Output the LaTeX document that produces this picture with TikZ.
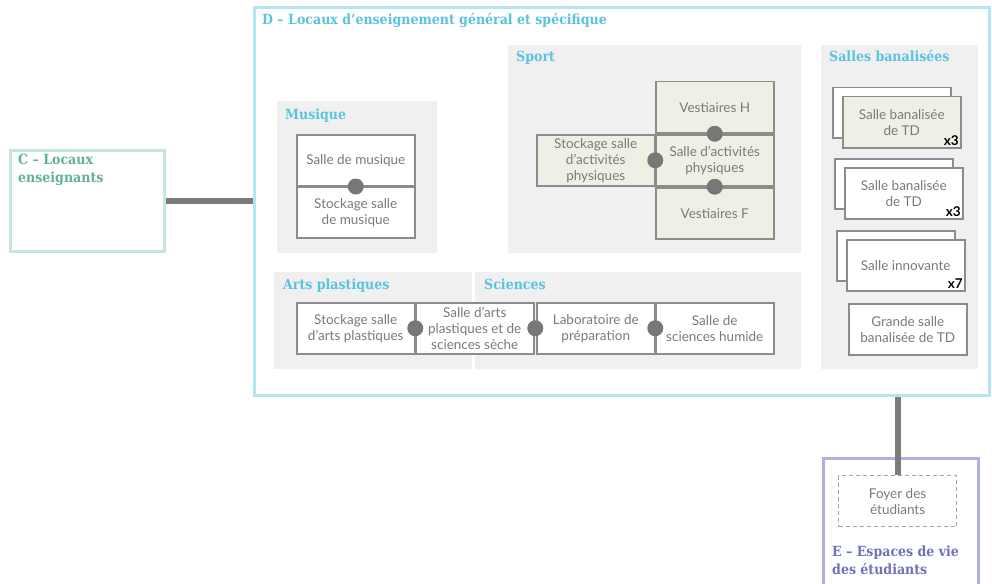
\documentclass[tikz,border=0pt]{standalone}
\usepackage{fontspec}
\setmainfont{Lato}
\newfontfamily\headfont{DejaVu Serif Condensed}
\usetikzlibrary{calc}

\definecolor{panelgray}{HTML}{F0F0F0}
\definecolor{sportfill}{HTML}{EEF0E6}
\definecolor{roomline}{HTML}{8C8C8C}
\definecolor{roomtext}{HTML}{7A7A7A}
\definecolor{linkgray}{HTML}{7B7B7B}
\definecolor{dotgray}{HTML}{777777}
\definecolor{dframe}{HTML}{B5E4F3}
\definecolor{dtitle}{HTML}{5BC2E0}
\definecolor{cframe}{HTML}{C5E8D6}
\definecolor{ctitle}{HTML}{62B09C}
\definecolor{eframe}{HTML}{AEB1DC}
\definecolor{etitle}{HTML}{6E72B8}

\tikzset{
  frame/.style={draw, line width=3pt, fill=white, inner sep=0pt},
  panel/.style={fill=panelgray, inner sep=0pt, anchor=north west},
  room/.style={draw=roomline, line width=1.5pt, fill=white, text=roomtext,
    align=center, font=\fontsize{13.5}{16}\selectfont, inner sep=1pt,
    minimum width=118pt, minimum height=51pt, anchor=north west},
  sportroom/.style={room, fill=sportfill},
  headtype/.style={font=\headfont\bfseries\fontsize{14}{18}\selectfont, inner sep=0pt},
  heading/.style={headtype, text=dtitle, anchor=base west},
  joint/.style={fill=dotgray},
  link/.style={draw=linkgray, line width=6pt},
  count/.style={font=\bfseries\fontsize{13.5}{13.5}\selectfont, text=black,
    anchor=south east, inner sep=2.5pt},
}

\begin{document}
\begin{tikzpicture}[x=1pt,y=-1pt]
\clip (0,0) rectangle (992,583);
\fill[white] (0,0) rectangle (992,583);

% three building zones
\node[frame, draw=cframe, minimum width=154pt, minimum height=101pt] (cbox) at (87.5,201) {};
\node[frame, draw=dframe, minimum width=735pt, minimum height=387.5pt] (dbox) at (622,201.25) {};
\node[frame, draw=eframe, minimum width=155pt, minimum height=140pt] (ebox) at (901,528.5) {};

\node[headtype, text=ctitle, anchor=north west, align=left] (ctitle) at (18,154) {C – Locaux\\enseignants};
\node[heading] (dtitle) at (262,25) {D – Locaux d’enseignement général et spécifique};
\node[headtype, text=etitle, anchor=north west, align=left] (etitle) at (832,546) {E – Espaces de vie\\des étudiants};

% grey sub-zones inside D
\node[panel, minimum width=160pt, minimum height=152pt] (pmus) at (277,101) {};
\node[panel, minimum width=293pt, minimum height=208pt] (psport) at (508,45) {};
\node[panel, minimum width=157pt, minimum height=324pt] (pban) at (821,45) {};
\node[panel, minimum width=198pt, minimum height=97pt] (parts) at (274,272) {};
\node[panel, minimum width=326pt, minimum height=97pt] (psci) at (475,272) {};

\node[heading] (tmus) at (285,119) {Musique};
\node[heading] (tsport) at (516,62) {Sport};
\node[heading] (tban) at (829,62) {Salles banalisées};
\node[heading] (tarts) at (283,289) {Arts plastiques};
\node[heading] (tsci) at (484,289) {Sciences};

% music rooms
\node[room] (mus) at (296,134) {Salle de musique};
\node[room] (musst) at (296,186) {Stockage salle\\de musique};
\fill[joint] (mus.south) circle (8);

% sport rooms
\node[sportroom] (vh) at (655,81) {Vestiaires H};
\node[sportroom] (sap) at (655,134) {Salle d'activités\\physiques};
\node[sportroom] (vf) at (655,187) {Vestiaires F};
\node[sportroom] (sapst) at (536,134) {Stockage salle\\d'activités\\physiques};
\fill[joint] ($(vh.south)!0.5!(sap.north)$) circle (8);
\fill[joint] ($(sapst.east)!0.5!(sap.west)$) circle (8);
\fill[joint] ($(sap.south)!0.5!(vf.north)$) circle (8);

% arts and sciences rooms
\node[room] (artst) at (296,302) {Stockage salle\\d'arts plastiques};
\node[room] (arts) at (415,302) {Salle d'arts\\plastiques et de\\sciences sèche};
\node[room] (labo) at (536,302) {Laboratoire de\\préparation};
\node[room] (hum) at (655,302) {Salle de\\sciences humide};
\fill[joint] ($(artst.east)!0.5!(arts.west)$) circle (8);
\fill[joint] ($(arts.east)!0.5!(labo.west)$) circle (8);
\fill[joint] ($(labo.east)!0.5!(hum.west)$) circle (8);

% generic teaching rooms
\node[room, minimum height=50pt] (td1b) at (832,87) {};
\node[sportroom] (td1) at (842,96) {Salle banalisée\\de TD};
\node[count] (td1n) at (td1.south east) {x3};
\node[room, minimum height=50pt] (td2b) at (834,158) {};
\node[room] (td2) at (844,167) {Salle banalisée\\de TD};
\node[count] (td2n) at (td2.south east) {x3};
\node[room, minimum height=50pt] (innb) at (836,230) {};
\node[room] (inn) at (846,239) {Salle innovante};
\node[count] (innn) at (inn.south east) {x7};
\node[room] (gtd) at (848,303) {Grande salle\\banalisée de TD};

% student area
\node[room, draw=roomline!80, line width=1.2pt, dash pattern=on 4pt off 3pt] (foyer) at (838,475) {Foyer des\\étudiants};

% links between zones
\draw[link] (cbox.east) -- (cbox.east -| dbox.west);
\draw[link] (foyer.north) -- (foyer.north |- dbox.south);
\end{tikzpicture}
\end{document}
